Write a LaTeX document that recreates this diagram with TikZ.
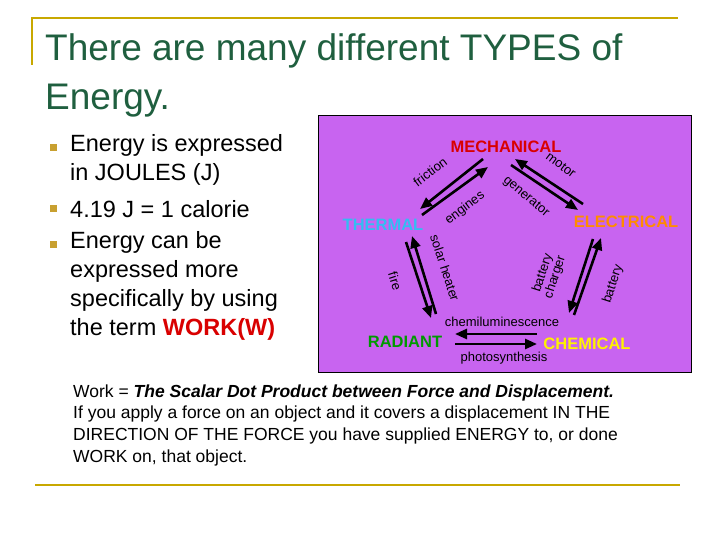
\documentclass[tikz,border=0pt]{standalone}
\usepackage{fontspec}
\setmainfont{Liberation Sans}
\usetikzlibrary{arrows.meta}
\definecolor{ttl}{HTML}{1F5F3F}
\definecolor{gold}{HTML}{C8A800}
\definecolor{bul}{HTML}{C8A030}
\definecolor{purp}{HTML}{C864F0}
\begin{document}
\begin{tikzpicture}[x=1pt,y=-1pt,
  body/.style={anchor=west,inner sep=0,font=\fontsize{23.5}{29}\selectfont,align=left},
  bsq/.style={fill=bul,minimum size=7,inner sep=0},
  cat/.style={font=\fontsize{16.5}{16}\selectfont\bfseries,inner sep=0},
  lab/.style={font=\fontsize{13}{13}\selectfont,inner sep=0},
  arr/.style={line width=2.6,-{Triangle[length=12,width=10]}},
  bot/.style={anchor=west,inner sep=0,font=\fontsize{17.5}{22}\selectfont}]
\useasboundingbox (0,0) rectangle (720,540);
\fill[white] (0,0) rectangle (720,540);
\draw[gold,line width=1.5] (32,65) -- (32,18) -- (678,18);
\draw[gold,line width=1.5] (35,485) -- (680,485);
\node[anchor=west,inner sep=0,text=ttl,font=\fontsize{37}{49}\selectfont,align=left] (title) at (45,75) {There are many different TYPES of\\Energy.};
\node[bsq] (b1) at (53,148) {};
\node[bsq] (b2) at (53,209) {};
\node[bsq] (b3) at (53,244) {};
\node[body] (t1) at (70,160) {Energy is expressed\\in JOULES (J)};
\node[body] (t2) at (70,209) {4.19 J = 1 calorie};
\node[body] (t3) at (70,286) {Energy can be\\expressed more\\specifically by using\\the term {\color{red!85!black}\bfseries WORK(W)}};
% diagram
\draw[black,fill=purp] (318,115) rectangle (691,372);
\node[cat,text=red!85!black] (mech) at (506,147) {MECHANICAL};
\node[cat,text=cyan!80!white] (therm) at (383,225) {THERMAL};
\node[cat,text=orange!90!yellow] (elec) at (626,222) {ELECTRICAL};
\node[cat,text=green!60!black] (rad) at (405,342) {RADIANT};
\node[cat,text=yellow] (chem) at (587,344) {CHEMICAL};
\coordinate (a1) at (483,159); \coordinate (a2) at (420,209);
\coordinate (b1s) at (422,215); \coordinate (b2s) at (488,167);
\draw[arr] (a1) -- (a2); \draw[arr] (b1s) -- (b2s);
\node[lab,rotate=37] (fric) at (430,172) {friction};
\node[lab,rotate=37] (eng) at (465,208) {engines};
\coordinate (c1) at (583,204); \coordinate (c2) at (515,159);
\coordinate (d1) at (511,165); \coordinate (d2) at (578,210);
\draw[arr] (c1) -- (c2); \draw[arr] (d1) -- (d2);
\node[lab,rotate=-37] (mot) at (561,165) {motor};
\node[lab,rotate=-40] (gen) at (526,197) {generator};
\coordinate (e1) at (406,242); \coordinate (e2) at (431,318);
\coordinate (f1) at (436,314); \coordinate (f2) at (412,236);
\draw[arr] (e1) -- (e2); \draw[arr] (f1) -- (f2);
\node[lab,rotate=-72] (fire) at (395,281) {fire};
\node[lab,rotate=-72] (sol) at (445,268) {solar heater};
\coordinate (g1) at (593,239); \coordinate (g2) at (569,313);
\coordinate (h1) at (574,315); \coordinate (h2) at (601,238);
\draw[arr] (g1) -- (g2); \draw[arr] (h1) -- (h2);
\node[lab,rotate=72,align=center,font=\fontsize{13}{13}\selectfont] (bch) at (549,275) {battery\\charger};
\node[lab,rotate=72] (bat) at (613,284) {battery};
\coordinate (i1) at (537,334); \coordinate (i2) at (455,334);
\coordinate (j1) at (455,344); \coordinate (j2) at (537,344);
\draw[arr] (i1) -- (i2); \draw[arr] (j1) -- (j2);
\node[lab] (chl) at (502,322) {chemiluminescence};
\node[lab] (pho) at (504,358) {photosynthesis};
% bottom text
\node[bot] (w1) at (73,393) {Work = \textbf{\itshape The Scalar Dot Product between Force and Displacement.}};
\node[bot] (w2) at (73,414) {If you apply a force on an object and it covers a displacement IN THE};
\node[bot] (w3) at (73,436) {DIRECTION OF THE FORCE you have supplied ENERGY to, or done};
\node[bot] (w4) at (73,458) {WORK on, that object.};
\end{tikzpicture}
\end{document}
